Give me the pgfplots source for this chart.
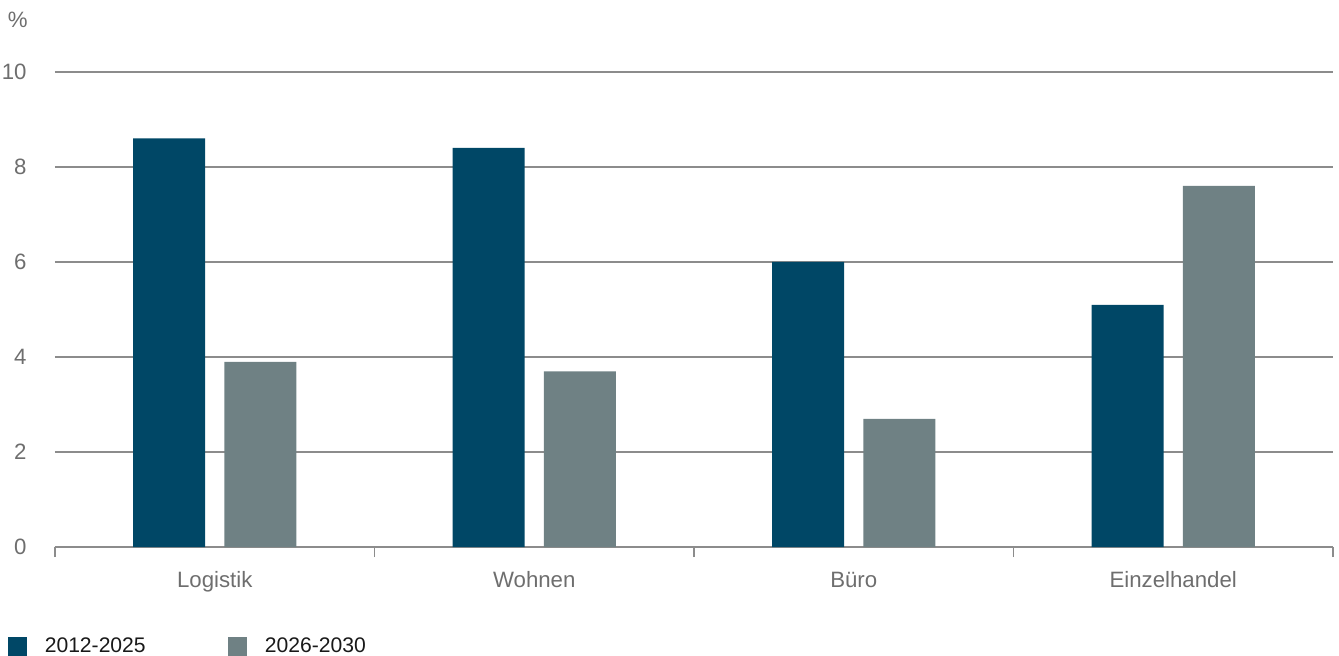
\documentclass[border=0pt]{standalone}
\usepackage{pgfplots}
\pgfplotsset{compat=1.18}
\usepackage{fontspec}
\setmainfont{Liberation Sans}
\definecolor{cdark}{HTML}{004766}
\definecolor{cgray}{HTML}{6F8184}
\definecolor{lbl}{HTML}{6E6E6E}
\definecolor{gridc}{HTML}{8C8C8C}
\begin{document}
\begin{tikzpicture}
\path[use as bounding box] (-24.75pt,-48.6pt) rectangle (577.8pt,246.15pt);
\begin{axis}[
  at={(0pt,0pt)}, anchor=south west,
  scale only axis,
  width=575.1pt, height=213.75pt,
  ybar, bar width=32.4pt,
  xmin=-0.5, xmax=3.5, ymin=0, ymax=10,
  ytick={0,2,4,6,8,10},
  xtick={0,1,2,3},
  xticklabels={Logistik,Wohnen,Büro,Einzelhandel},
  axis x line*=bottom, axis y line*=left,
  y axis line style={draw=none},
  x axis line style={draw=gridc, line width=0.5pt},
  ymajorgrids, grid style={draw=gridc, line width=0.5pt},
  tick align=outside,
  major tick length=0pt,
  ytick style={draw=none},
  xtick style={draw=gridc, line width=0.5pt},
  extra x ticks={-0.5,0.5,1.5,2.5,3.5},
  extra x tick labels={},
  extra x tick style={grid=none, major tick length=4.5pt, tick align=outside},
  tick label style={font=\fontsize{10}{12}\selectfont, text=lbl},
  yticklabel style={anchor=east, inner sep=0pt, xshift=-12.6pt},
  xticklabel style={anchor=base, inner sep=0pt, yshift=-18pt},
  /pgf/number format/assume math mode=true,
  legend columns=2,
  legend style={at={(-21.2pt,-45pt)}, anchor=west, draw=none, fill=none,
    font=\fontsize{9.5}{12}\selectfont, text=black!90,
    /tikz/every even column/.append style={column sep=35pt},
    inner sep=0pt, outer sep=0pt},
  legend image code/.code={\fill[#1] (0pt,-4.3pt) rectangle (8.6pt,4.3pt);},
  clip=false,
]
\addplot[fill=cdark, draw=none, bar shift=-20.5pt] coordinates {(0,8.6) (1,8.4) (2,6.0) (3,5.1)};
\addplot[fill=cgray, draw=none, bar shift=20.5pt] coordinates {(0,3.9) (1,3.7) (2,2.7) (3,7.6)};
\legend{\hspace{6pt}2012-2025,\hspace{6pt}2026-2030}
\node[anchor=west, inner sep=0pt, text=lbl, font=\fontsize{10}{12}\selectfont] at (axis cs:-0.5,10) [xshift=-21.4pt, yshift=23.4pt] {\%};
\end{axis}
\end{tikzpicture}
\end{document}
